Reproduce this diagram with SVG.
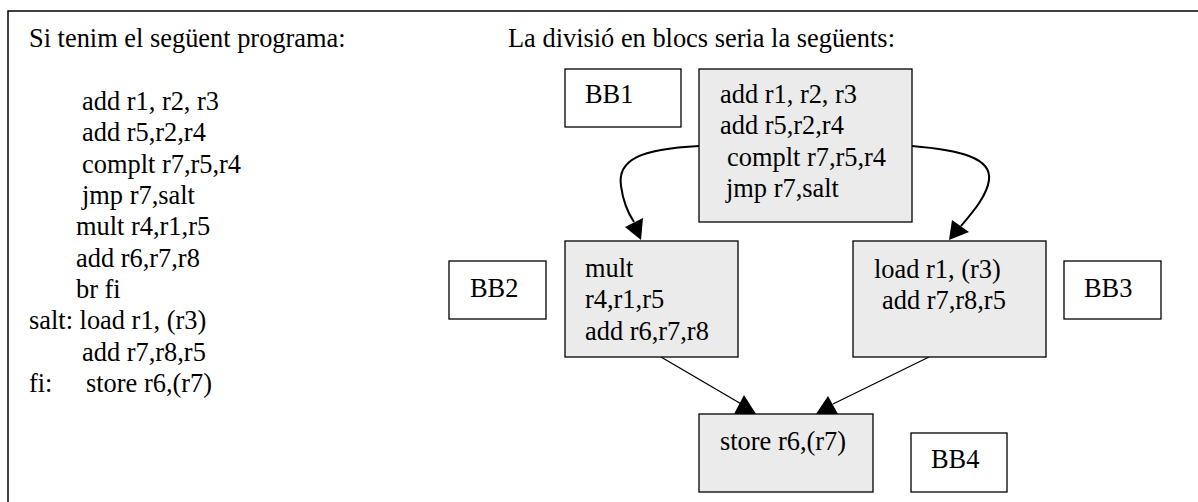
<svg xmlns="http://www.w3.org/2000/svg" width="1198" height="502" viewBox="0 0 1198 502">
<style>
text{font-family:"Liberation Serif","Times New Roman",serif;font-size:26.4px;fill:#000}
.frame{fill:none;stroke:#000;stroke-width:1.5}
.blk{fill:#ebebeb;stroke:#000;stroke-width:1.3}
.lbl{fill:#fff;stroke:#000;stroke-width:1.3}
.curve{fill:none;stroke:#000;stroke-width:2}
.edge{fill:none;stroke:#000;stroke-width:1.3}
.head{fill:#000;stroke:none}
</style>
<rect width="1198" height="502" fill="#fff"/>
<path class="frame" d="M8,502 V11 H1198"/>
<g id="program">
<text x="29" y="47">Si tenim el següent programa:</text>
<text x="82" y="110">add r1, r2, r3</text>
<text x="82" y="141.3">add r5,r2,r4</text>
<text x="82" y="172.6">complt r7,r5,r4</text>
<text x="82" y="204">jmp r7,salt</text>
<text x="76" y="235">mult r4,r1,r5</text>
<text x="76" y="266.5">add r6,r7,r8</text>
<text x="76" y="298">br fi</text>
<text x="29" y="329">salt: load r1, (r3)</text>
<text x="82" y="360.5">add r7,r8,r5</text>
<text y="392"><tspan x="29">fi:</tspan><tspan x="86">store r6,(r7)</tspan></text>
<text x="508" y="47">La divisió en blocs seria la següents:</text>
</g>
<g id="connectors">
<path class="curve" d="M699,146 C640,149 617,160 621,186 C623,201 628,213 634,222"/>
<polygon class="head" points="641,240 625,227 643,218"/>
<path class="curve" d="M912,146 C960,150 992,158 989,180 C987,196 972,213 961,226"/>
<polygon class="head" points="949,240 952,220 969,232"/>
<path class="edge" d="M661,357 L743,405"/>
<polygon class="head" points="734,414 756,414 744,395"/>
<path class="edge" d="M929,357 L833,404"/>
<polygon class="head" points="816,414 838,414 828,396"/>
</g>
<g id="BB1">
<rect class="lbl" x="565" y="69" width="116" height="58"/>
<text x="585" y="103">BB1</text>
<rect class="blk" x="699" y="69" width="213" height="153"/>
<text x="720" y="103">add r1, r2, r3</text>
<text x="720" y="134.3">add r5,r2,r4</text>
<text x="727" y="165.6">complt r7,r5,r4</text>
<text x="726" y="197">jmp r7,salt</text>
</g>
<g id="BB2">
<rect class="lbl" x="449" y="261" width="97" height="58"/>
<text x="470" y="296.7">BB2</text>
<rect class="blk" x="565" y="241" width="173" height="116"/>
<text x="585" y="277">mult</text>
<text x="585" y="308.3">r4,r1,r5</text>
<text x="585" y="339.6">add r6,r7,r8</text>
</g>
<g id="BB3">
<rect class="blk" x="853" y="241" width="193" height="116"/>
<text x="874" y="278">load r1, (r3)</text>
<text x="882" y="309.3">add r7,r8,r5</text>
<rect class="lbl" x="1064" y="261" width="97" height="58"/>
<text x="1084" y="296.7">BB3</text>
</g>
<g id="BB4">
<rect class="blk" x="699" y="414" width="174" height="78"/>
<text x="720" y="450">store r6,(r7)</text>
<rect class="lbl" x="911" y="433" width="96" height="59"/>
<text x="931" y="468">BB4</text>
</g>
</svg>
